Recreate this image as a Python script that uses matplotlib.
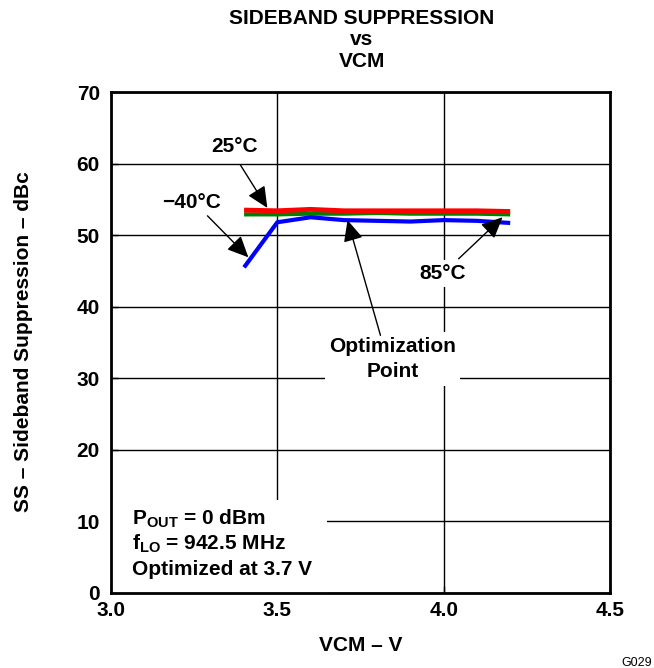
import numpy as np
import matplotlib.pyplot as plt
from matplotlib.patches import Rectangle

plt.rcParams['font.family'] = ['Liberation Sans', 'DejaVu Sans']
plt.rcParams['font.weight'] = 'bold'
plt.rcParams['mathtext.fontset'] = 'custom'
plt.rcParams['mathtext.rm'] = 'Liberation Sans:bold'
plt.rcParams['mathtext.bf'] = 'Liberation Sans:bold'
plt.rcParams['mathtext.default'] = 'bf'

vcm = [3.4, 3.5, 3.6, 3.7, 3.8, 3.9, 4.0, 4.1, 4.2]
ss_25 = [53.5, 53.4, 53.6, 53.4, 53.4, 53.4, 53.4, 53.4, 53.3]
ss_85 = [52.9, 52.9, 53.0, 53.0, 53.1, 53.0, 53.0, 53.0, 52.9]
ss_m40 = [45.5, 51.8, 52.5, 52.1, 52.0, 51.9, 52.1, 52.0, 51.7]

FS = 15
W, H = 654, 668

fig = plt.figure(figsize=(W / 100, H / 100), dpi=100)
ax = fig.add_axes([111/W, 1 - 593/H, 499/W, 501/H])

ax.plot(vcm, ss_85, color='#008000', lw=3, zorder=4, solid_capstyle='butt')
ax.plot(vcm, ss_m40, color='#0000ff', lw=3, zorder=4, solid_capstyle='butt')
ax.plot(vcm, ss_25, color='#ff0000', lw=3.5, zorder=5, solid_capstyle='butt')

ax.set_xlim(3.0, 4.5)
ax.set_ylim(0, 70)
ax.set_xticks([3.0, 3.5, 4.0, 4.5])
ax.set_xticklabels(['3.0', '3.5', '4.0', '4.5'])
ax.set_yticks(range(0, 80, 10))
ax.grid(True, color='black', lw=1)
ax.set_axisbelow(True)
ax.tick_params(direction='in', length=5, width=1, labelsize=FS)
ax.tick_params(axis='x', pad=6)
ax.tick_params(axis='y', pad=8)
for s in ax.spines.values():
    s.set_linewidth(2)

# titles and axis labels
for txt, yb in [('SIDEBAND SUPPRESSION', 24.5), ('vs', 45), ('VCM', 67)]:
    fig.text(362/W, 1 - yb/H, txt, ha='center', va='baseline', fontsize=FS, fontweight='bold')
fig.text(361/W, 1 - 651/H, 'VCM – V', ha='center', va='baseline', fontsize=FS, fontweight='bold')
fig.text(24/W, 1 - 342/H, 'SS – Sideband Suppression – dBc', ha='center', va='center',
         rotation=90, fontsize=FS, fontweight='bold')
fig.text(652/W, 1 - 666/H, 'G029', ha='right', va='baseline', fontsize=9, fontweight='normal')

arrow = dict(arrowstyle='-|>,head_length=1.3,head_width=0.6', color='black', lw=1,
             shrinkA=0, shrinkB=0, mutation_scale=10)

ax.text(3.371, 62.45, '25°C', fontsize=FS, ha='center', va='center')
ax.annotate('', xy=(3.470, 53.8), xytext=(3.389, 59.8), arrowprops=arrow, zorder=6)

ax.text(3.242, 54.5, '−40°C', fontsize=FS, ha='center', va='center')
ax.annotate('', xy=(3.413, 46.9), xytext=(3.290, 52.7), arrowprops=arrow, zorder=6)

ax.text(3.997, 44.6, '85°C', fontsize=FS, ha='center', va='center', zorder=3,
        bbox=dict(fc='white', ec='none', pad=3))
ax.annotate('', xy=(4.177, 52.5), xytext=(4.045, 46.7), arrowprops=arrow, zorder=6)

ax.text(3.847, 32.7, 'Optimization\nPoint', fontsize=FS, ha='center', va='center', zorder=3,
        linespacing=1.45, bbox=dict(fc='white', ec='none', pad=3))
ax.annotate('', xy=(3.711, 52.1), xytext=(3.810, 36.0), arrowprops=arrow, zorder=6)

# conditions box
ax.add_patch(Rectangle((3.0, 0.0), 0.65, 13.0, fc='white', ec='none', zorder=2))
lines = ['P$_{OUT}$ = 0 dBm', 'f$_{LO}$ = 942.5 MHz', 'Optimized at 3.7 V']
for txt, yb in zip(lines, [525, 550, 575]):
    ax.text(3.0 + (132 - 111) / 332.7, (593 - yb) / 7.157, txt, fontsize=FS,
            ha='left', va='baseline', zorder=3)

fig.savefig('out.png', dpi=100)
